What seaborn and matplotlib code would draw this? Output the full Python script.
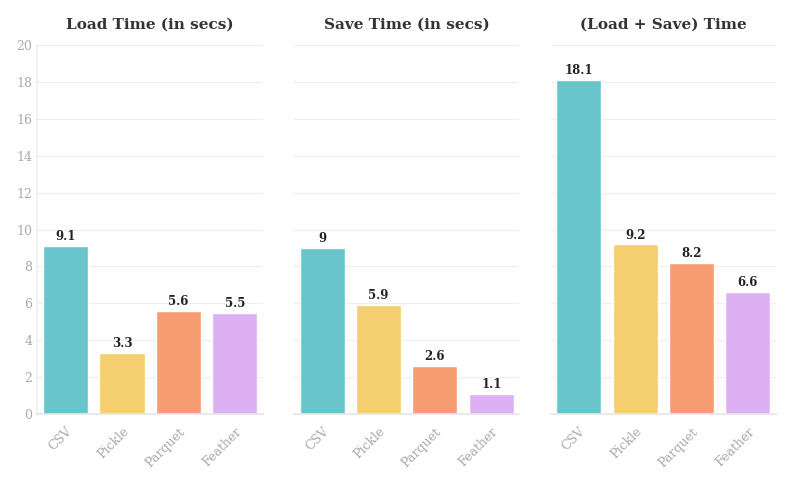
import pandas as pd
import matplotlib
matplotlib.use("Agg")
import matplotlib.pyplot as plt
import seaborn as sns

# dados
formatos = ["CSV", "Pickle", "Parquet", "Feather"]
load_time = [9.1, 3.3, 5.6, 5.5]
save_time = [9, 5.9, 2.6, 1.1]
total_time = [18.1, 9.2, 8.2, 6.6]
titulos = ["Load Time (in secs)", "Save Time (in secs)", "(Load + Save) Time"]
cores = ["#67C5CB", "#F5CF6F", "#F89C73", "#DCB0F2"]

sns.set_theme(style="white")
plt.rcParams["font.family"] = ["DejaVu Serif"]

fig, axes = plt.subplots(1, 3, figsize=(7.96, 4.8), dpi=100, sharey=True)
fig.subplots_adjust(left=0.047, right=0.975, top=0.906, bottom=0.1375, wspace=0.138)

for ax, titulo, valores in zip(axes, titulos, [load_time, save_time, total_time]):
    df = pd.DataFrame({"formato": formatos, "tempo": valores})
    sns.barplot(data=df, x="formato", y="tempo", hue="formato", palette=cores,
                legend=False, width=0.8, saturation=1, ax=ax)
    for cont in ax.containers:
        ax.bar_label(cont, fmt="%g", padding=2, fontsize=8.5, fontweight="bold", color="#222222")
    ax.set_title(titulo, fontsize=11, fontweight="bold", color="#333333", pad=12)
    ax.set_xlabel("")
    ax.set_ylabel("")
    ax.set_ylim(0, 20)
    ax.set_yticks(range(0, 21, 2))
    ax.yaxis.grid(True, color="#eeeeee", linewidth=0.8)
    ax.set_axisbelow(True)
    for lado in ["top", "right", "left"]:
        ax.spines[lado].set_visible(False)
    ax.spines["bottom"].set_color("#e6e6e6")
    ax.tick_params(axis="x", labelrotation=45, labelsize=9, colors="#aaaaaa", length=0, pad=8)
    ax.tick_params(axis="y", labelsize=9, colors="#aaaaaa", length=0)
    for lbl in ax.get_xticklabels():
        lbl.set_ha("right")
        lbl.set_rotation_mode("anchor")

axes[0].spines["left"].set_visible(True)
axes[0].spines["left"].set_color("#f0f0f0")

fig.savefig("out.png", dpi=100)
